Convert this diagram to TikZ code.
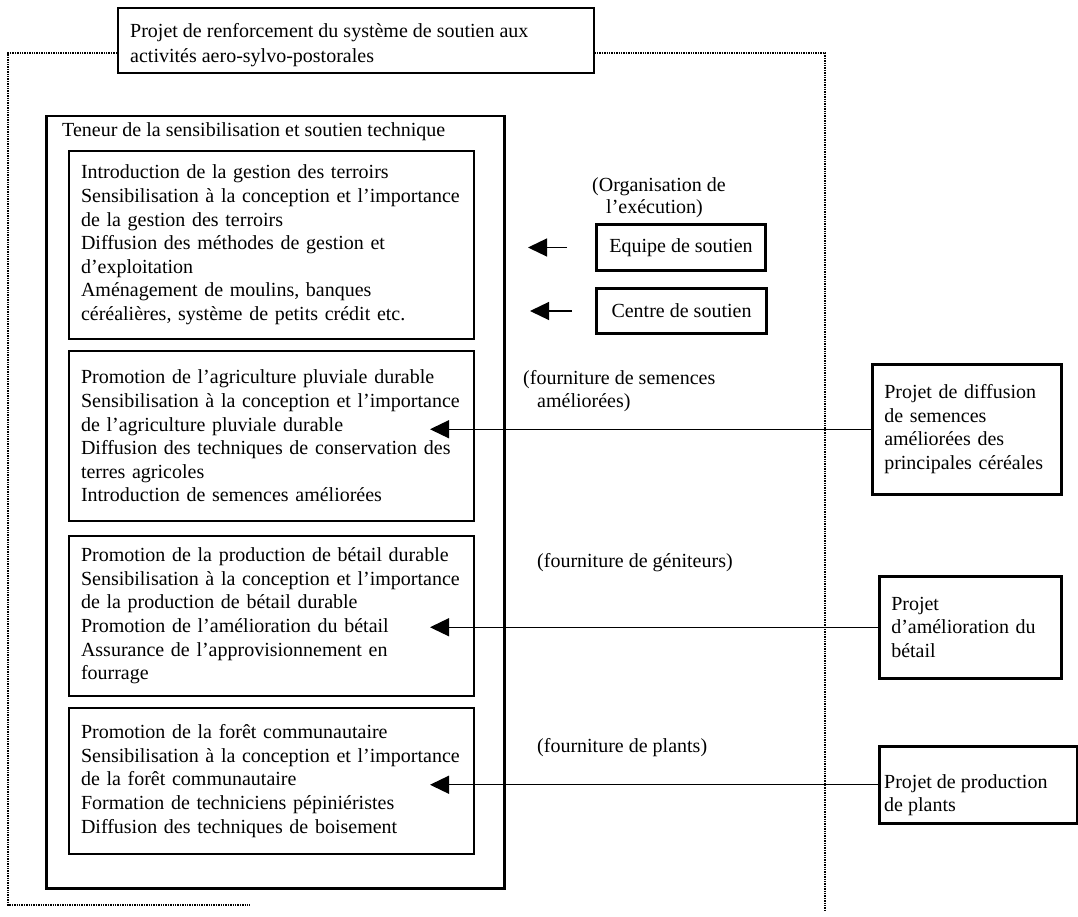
\documentclass[tikz,border=0pt]{standalone}
\usepackage{fontspec}
\setmainfont{Liberation Serif}
\usetikzlibrary{arrows.meta}
\newcommand\txtfont{\fontsize{20pt}{23.6pt}\selectfont}
\begin{document}
\begin{tikzpicture}[x=1pt,y=-1pt,
  frame/.style={draw, line width=1.2pt, dash pattern=on 1.4pt off 1pt},
  bigbox/.style={draw, line width=2.5pt, anchor=north west, inner sep=0pt},
  itembox/.style={draw, line width=2pt, anchor=north west, inner xsep=12pt, inner ysep=0pt,
    text width=381pt, align=left, font=\txtfont},
  sidebox/.style={draw, line width=3pt, anchor=north west, inner sep=0pt, font=\txtfont},
  projbox/.style={draw, line width=2.5pt, anchor=north west, inner xsep=12pt, inner ysep=0pt,
    align=left, font=\txtfont},
  plain/.style={inner sep=0pt, align=left, font=\txtfont},
  feed/.style={line width=1.3pt, -{Triangle[length=19pt,width=18pt]}}
]
\useasboundingbox (0,0) rectangle (1078,917);

% programme title
\node[draw, line width=1.6pt, anchor=north west, minimum width=476pt, minimum height=65pt, inner sep=0pt]
  (title) at (117,7) {};
\node[plain, anchor=north west, font=\fontsize{20pt}{25pt}\selectfont] (titletxt) at (130,23)
  {Projet de renforcement du système de soutien aux\\activités aero-sylvo-postorales};

% dotted programme frame
\coordinate (fTL) at (8,53);
\coordinate (fTR) at (825,53);
\coordinate (fBL) at (8,905);
\coordinate (fBR) at (825,910);
\coordinate (fBM) at (250,905);
\draw[frame] (title.west |- fTL) -- (fTL) -- (fBL) -- (fBM);
\draw[frame] (title.east |- fTR) -- (fTR) -- (fBR);

% content of awareness raising and technical support
\node[bigbox, minimum width=458pt, minimum height=772pt] (content) at (45,115) {};
\node[plain, anchor=west] (contenthead) at (62,132)
  {Teneur de la sensibilisation et soutien technique};

\node[itembox, minimum height=188pt] (land) at (68,150)
  {Introduction de la gestion des terroirs\\
   Sensibilisation à la conception et l'importance\\
   de la gestion des terroirs\\
   Diffusion des méthodes de gestion et\\
   d'exploitation\\
   Aménagement de moulins, banques\\
   céréalières, système de petits crédit etc.};

\node[itembox, minimum height=170pt] (agri) at (68,350)
  {Promotion de l'agriculture pluviale durable\\
   Sensibilisation à la conception et l'importance\\
   de l'agriculture pluviale durable\\
   Diffusion des techniques de conservation des\\
   terres agricoles\\
   Introduction de semences améliorées};

\node[itembox, minimum height=160pt] (cattle) at (68,535)
  {Promotion de la production de bétail durable\\
   Sensibilisation à la conception et l'importance\\
   de la production de bétail durable\\
   Promotion de l'amélioration du bétail\\
   Assurance de l'approvisionnement en\\
   fourrage};

\node[itembox, minimum height=146pt] (forest) at (68,707)
  {Promotion de la forêt communautaire\\
   Sensibilisation à la conception et l'importance\\
   de la forêt communautaire\\
   Formation de techniciens pépiniéristes\\
   Diffusion des techniques de boisement};

% execution organisation
\node[plain, anchor=west, font=\fontsize{20pt}{22pt}\selectfont] (orglabel) at (592,198)
  {(Organisation de\\\hspace*{14pt}l'exécution)};
\node[sidebox, minimum width=169pt, minimum height=46pt] (team) at (595,223) {Equipe de soutien};
\node[sidebox, minimum width=170pt, minimum height=45pt] (centre) at (595,287) {Centre de soutien};
\coordinate (teamtail) at ([xshift=-28pt]team.west);
\coordinate (teamtip) at ([xshift=-67pt]team.west);
\coordinate (centretail) at ([xshift=-23pt]centre.west);
\coordinate (centretip) at ([xshift=-65pt]centre.west);
\draw[feed] (teamtail) -- (teamtip);
\draw[feed] (centretail) -- (centretip);

% supply labels
\node[plain, anchor=west] (seedlabel) at (523,391)
  {(fourniture de semences\\\hspace*{14pt}améliorées)};
\node[plain, anchor=west] (sirelabel) at (537,563) {(fourniture de géniteurs)};
\node[plain, anchor=west] (plantlabel) at (537,748) {(fourniture de plants)};

% related projects
\node[projbox, text width=165pt, minimum height=130pt] (seedproj) at (871,363)
  {Projet de diffusion\\de semences\\améliorées des\\principales céréales};
\node[projbox, text width=158pt, minimum height=102pt] (cattleproj) at (878,575)
  {Projet\\d'amélioration du\\bétail};
\node[draw, line width=2.5pt, anchor=north west, inner sep=0pt, minimum width=198pt, minimum height=77pt]
  (plantproj) at (878,745) {};
\node[plain, anchor=north west] (planttxt) at (884,774) {Projet de production\\de plants};

\coordinate (tipcol) at (430,0);
\draw[feed] (seedproj.west) -- (seedproj.west -| tipcol);
\draw[feed] (cattleproj.west) -- (cattleproj.west -| tipcol);
\draw[feed] (plantproj.west) -- (plantproj.west -| tipcol);
\end{tikzpicture}
\end{document}
